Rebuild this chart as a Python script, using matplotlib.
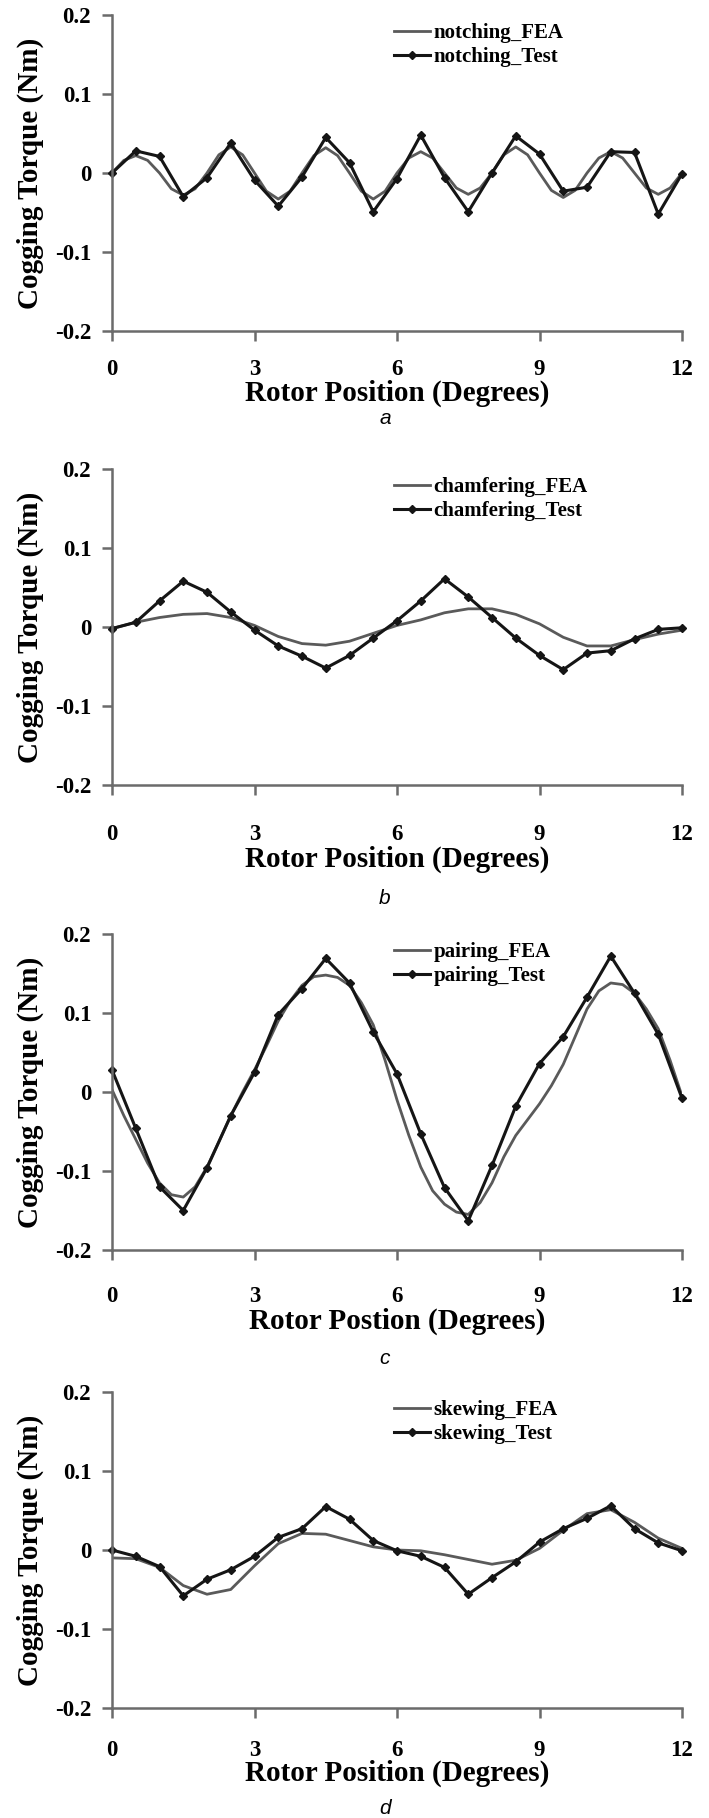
import numpy as np
import matplotlib
matplotlib.use("Agg")
import matplotlib.pyplot as plt

# ---------------- data ----------------
x_test = [0, 0.5, 1, 1.5, 2, 2.5, 3, 3.5, 4, 4.5, 5, 5.5, 6, 6.5, 7, 7.5,
          8, 8.5, 9, 9.5, 10, 10.5, 11, 11.5, 12]
x_fea_q = [0, 0.25, 0.5, 0.75, 1, 1.25, 1.5, 1.75, 2, 2.25, 2.5, 2.75, 3, 3.25,
           3.5, 3.75, 4, 4.25, 4.5, 4.75, 5, 5.25, 5.5, 5.75, 6, 6.25, 6.5,
           6.75, 7, 7.25, 7.5, 7.75, 8, 8.25, 8.5, 8.75, 9, 9.25, 9.5, 9.75,
           10, 10.25, 10.5, 10.75, 11, 11.25, 11.5, 11.75, 12]
x_fea_h = x_test

notching_test = [0.0, 0.028, 0.021, -0.030, -0.006, 0.038, -0.009, -0.042,
                 -0.005, 0.045, 0.013, -0.049, -0.007, 0.048, -0.006, -0.049,
                 0.0, 0.047, 0.024, -0.023, -0.018, 0.027, 0.026, -0.052, -0.001]
notching_fea = [0, 0.016, 0.022, 0.016, 0, -0.020, -0.028, -0.020, 0, 0.023,
                0.033, 0.023, 0, -0.023, -0.033, -0.023, 0, 0.022, 0.032, 0.022,
                0, -0.023, -0.033, -0.023, 0, 0.019, 0.027, 0.019, 0, -0.019,
                -0.027, -0.019, 0, 0.023, 0.033, 0.023, 0, -0.022, -0.031, -0.022,
                0, 0.019, 0.027, 0.019, 0, -0.019, -0.027, -0.019, 0]

chamfering_test = [-0.002, 0.006, 0.033, 0.058, 0.044, 0.019, -0.004, -0.024,
                   -0.037, -0.052, -0.036, -0.014, 0.008, 0.033, 0.061, 0.038,
                   0.012, -0.014, -0.036, -0.054, -0.033, -0.030, -0.015,
                   -0.003, -0.001]
chamfering_fea = [-0.002, 0.006, 0.012, 0.016, 0.017, 0.012, 0.002, -0.012,
                  -0.021, -0.023, -0.018, -0.008, 0.002, 0.009, 0.018, 0.023,
                  0.023, 0.016, 0.004, -0.013, -0.024, -0.024, -0.016, -0.009,
                  -0.004]

pairing_test = [0.028, -0.046, -0.120, -0.150, -0.096, -0.030, 0.025, 0.098,
                0.131, 0.169, 0.138, 0.076, 0.023, -0.053, -0.121, -0.163,
                -0.093, -0.018, 0.036, 0.070, 0.120, 0.172, 0.125, 0.073, -0.008]
pairing_fea = [0.003, -0.030, -0.060, -0.090, -0.115, -0.130, -0.133, -0.120,
               -0.095, -0.063, -0.030, 0.0, 0.028, 0.058, 0.090, 0.115, 0.135,
               0.146, 0.148, 0.145, 0.135, 0.113, 0.085, 0.040, -0.010, -0.055,
               -0.095, -0.125, -0.142, -0.152, -0.155, -0.140, -0.115, -0.082,
               -0.055, -0.035, -0.015, 0.008, 0.035, 0.070, 0.105, 0.128, 0.138,
               0.136, 0.125, 0.105, 0.080, 0.040, -0.005]

skewing_test = [0.0, -0.008, -0.021, -0.058, -0.037, -0.025, -0.008, 0.016,
                0.027, 0.055, 0.039, 0.012, -0.001, -0.008, -0.022, -0.056,
                -0.035, -0.015, 0.010, 0.027, 0.040, 0.056, 0.027, 0.009, -0.001]
skewing_fea = [-0.010, -0.011, -0.022, -0.045, -0.056, -0.050, -0.020, 0.008,
               0.021, 0.020, 0.012, 0.004, 0.0, -0.001, -0.006, -0.012, -0.018,
               -0.013, 0.002, 0.025, 0.046, 0.051, 0.035, 0.015, 0.002]

panel_names = ["notching", "chamfering", "pairing", "skewing"]
panel_letters = ["a", "b", "c", "d"]
x_labels = ["Rotor Position (Degrees)", "Rotor Position (Degrees)",
            "Rotor Postion (Degrees)", "Rotor Position (Degrees)"]
y_label = "Cogging Torque (Nm)"
x_ticks = [0, 3, 6, 9, 12]
y_ticks = [-0.2, -0.1, 0, 0.1, 0.2]
y_tick_labels = ["-0.2", "-0.1", "0", "0.1", "0.2"]

fea_x = [x_fea_q, x_fea_h, x_fea_q, x_fea_h]
fea_y = [notching_fea, chamfering_fea, pairing_fea, skewing_fea]
test_y = [notching_test, chamfering_test, pairing_test, skewing_test]

# ---------------- layout (pixels) ----------------
W, H = 709, 1818
fig = plt.figure(figsize=(W / 100, H / 100), dpi=100)
left_px, right_px = 112, 682
tops = [15, 469, 934, 1392]
ax_h = 316
tick_off = [31, 39, 37, 34]
xlab_off = [62, 74, 71, 65]
letter_off = [88, 113, 109, 100]

serif = ["Liberation Serif", "DejaVu Serif"]
gray_spine = "#6b6b6b"

for i in range(4):
    top = tops[i]
    ax = fig.add_axes([left_px / W, 1 - (top + ax_h) / H,
                       (right_px - left_px) / W, ax_h / H])
    ax.plot(fea_x[i], fea_y[i], color="#5a5a5a", lw=2.0,
            label=f"{panel_names[i]}_FEA", solid_joinstyle="round")
    ax.plot(x_test, test_y[i], color="#151515", lw=2.2, marker="D",
            markersize=4.0, label=f"{panel_names[i]}_Test", clip_on=False,
            solid_joinstyle="round")
    ax.set_xlim(0, 12)
    ax.set_ylim(-0.2, 0.2)
    for s in ["top", "right"]:
        ax.spines[s].set_visible(False)
    for s in ["left", "bottom"]:
        ax.spines[s].set_color(gray_spine)
        ax.spines[s].set_linewidth(1.8)
    ax.set_xticks(x_ticks)
    ax.set_xticklabels([str(t) for t in x_ticks])
    ax.set_yticks(y_ticks)
    ax.set_yticklabels(y_tick_labels)
    ax.tick_params(axis="both", direction="out", length=7, width=1.8,
                   color=gray_spine)
    ax.tick_params(axis="x", pad=tick_off[i] - 7 - 11)
    ax.tick_params(axis="y", pad=8)
    for lab in ax.get_xticklabels() + ax.get_yticklabels():
        lab.set_fontfamily(serif)
        lab.set_fontweight("bold")
        lab.set_fontsize(16.5)
    ax.set_xlabel(x_labels[i], fontfamily=serif, fontweight="bold",
                  fontsize=21)
    ax.xaxis.label.set_va("center")
    ax.xaxis.set_label_coords(0.5, -xlab_off[i] / ax_h)
    ax.set_ylabel(y_label, fontfamily=serif, fontweight="bold", fontsize=21)
    ax.yaxis.label.set_va("center")
    ax.yaxis.set_label_coords((30 - left_px) / (right_px - left_px), 0.5)
    leg = ax.legend(loc="upper left", bbox_to_anchor=(0.495, 0.975),
                    frameon=False, borderpad=0, borderaxespad=0,
                    handlelength=1.7, handletextpad=0.2, labelspacing=0.2,
                    prop={"family": serif, "weight": "bold", "size": 15})
    fig.text(385 / W, 1 - (top + ax_h + letter_off[i]) / H, panel_letters[i],
             ha="center", va="center", fontsize=15, style="italic",
             family=["Liberation Sans", "DejaVu Sans"])

fig.savefig("out.png", dpi=100)
